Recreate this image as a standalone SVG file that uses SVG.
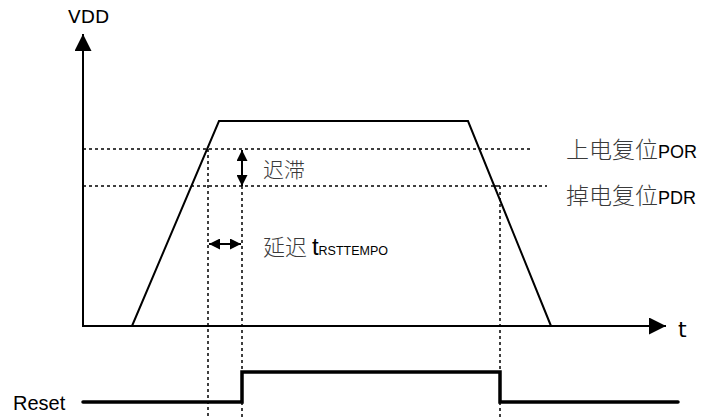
<svg xmlns="http://www.w3.org/2000/svg" width="702" height="418" viewBox="0 0 702 418">
<defs>
<marker id="big" viewBox="0 0 10 10" refX="10" refY="5" markerWidth="17" markerHeight="17" orient="auto" markerUnits="userSpaceOnUse">
<path d="M0,0 L10,5 L0,10 z" fill="#000"/>
</marker>
<marker id="sm" viewBox="0 0 10 10" refX="10" refY="5" markerWidth="11" markerHeight="11" orient="auto-start-reverse" markerUnits="userSpaceOnUse">
<path d="M0,0 L10,5 L0,10 z" fill="#000"/>
</marker>
</defs>
<style>
.ax{stroke:#000;stroke-width:2;fill:none}
.dash{stroke:#000;stroke-width:1.5;stroke-dasharray:3,3;fill:none}
.sig{stroke:#000;stroke-width:2;fill:none}
.rst{stroke:#000;stroke-width:3.5;fill:none;stroke-linecap:round}
.lbl{font-family:"Liberation Sans","Noto Sans CJK SC",sans-serif;fill:#000}
.dv{font-family:"DejaVu Sans",sans-serif;fill:#000}
.cjk{font-family:"Noto Sans CJK SC",sans-serif;fill:#3a3a3a;font-weight:300}
.lat{font-family:"Liberation Sans",sans-serif;fill:#000;font-weight:400}
</style>
<g id="axes">
<line class="ax" x1="83" y1="326" x2="83" y2="34" marker-end="url(#big)"/>
<line class="ax" x1="82" y1="326" x2="666" y2="326" marker-end="url(#big)"/>
</g>
<g id="connectors">
<line class="dash" x1="83" y1="149" x2="533" y2="149"/>
<line class="dash" x1="83" y1="186" x2="547" y2="186"/>
<line class="dash" x1="208" y1="149" x2="208" y2="418"/>
<line class="dash" x1="242" y1="186" x2="242" y2="418"/>
<polyline class="dash" points="494,186 500,186 500,418"/>
<line stroke="#000" stroke-width="2" x1="242" y1="150" x2="242" y2="186" marker-start="url(#sm)" marker-end="url(#sm)"/>
<line stroke="#000" stroke-width="2" x1="209" y1="244" x2="241" y2="244" marker-start="url(#sm)" marker-end="url(#sm)"/>
</g>
<g id="vdd-signal">
<polyline class="sig" points="132,326 219,121 468,121 551,326"/>
</g>
<g id="reset-signal">
<polyline class="rst" points="83,402 242,402 242,372 500,372 500,402 678,402"/>
</g>
<g id="labels">
<text class="dv" x="68" y="23" font-size="18.5">VDD</text>
<text class="dv" x="678" y="337" font-size="22">t</text>
<text class="lbl" x="13" y="410" font-size="20">Reset</text>
<text class="cjk" x="263" y="177" font-size="21">迟滞</text>
<text class="cjk" x="263" y="255" font-size="22">延迟 <tspan class="lat" font-size="24">t</tspan><tspan class="lat" font-size="12.5">RSTTEMPO</tspan></text>
<text class="cjk" x="566" y="158" font-size="23">上电复位<tspan class="lat" font-size="18">POR</tspan></text>
<text class="cjk" x="566" y="204" font-size="23">掉电复位<tspan class="lat" font-size="18">PDR</tspan></text>
</g>
</svg>
